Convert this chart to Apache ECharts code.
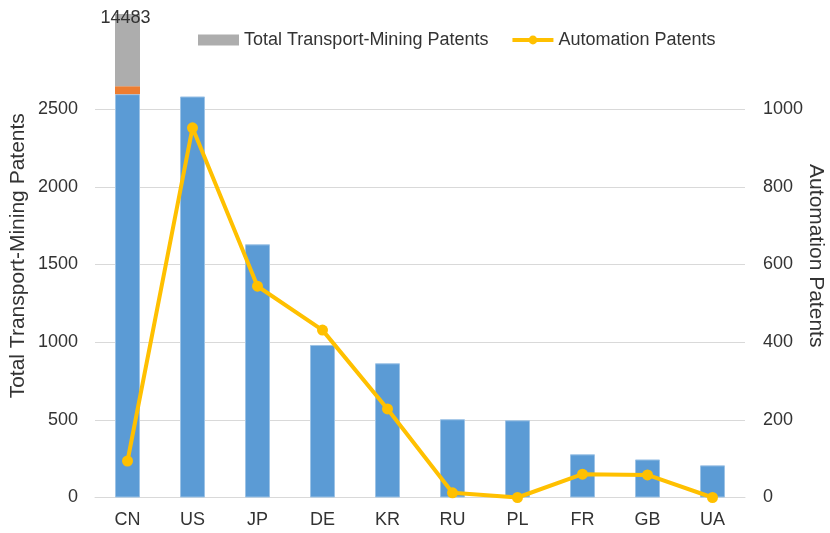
<!DOCTYPE html>
<html>
<head>
<meta charset="utf-8">
<script src="https://cdn.jsdelivr.net/npm/echarts@6/dist/echarts.min.js"></script>
<style>
  html, body { margin: 0; padding: 0; background: #fff; }
  #chart1 { width: 830px; height: 533px; }
</style>
</head>
<body>
<div id="chart1"></div>
<script>
// 国家分类
var categories = ['CN', 'US', 'JP', 'DE', 'KR', 'RU', 'PL', 'FR', 'GB', 'UA'];
// 运输-采矿专利总数（CN 柱子被截断显示）
var totalPatents = [2597, 2582, 1630, 982, 864, 504, 497, 278, 245, 207];
// CN 截断处的橙色断层和上面的灰色部分
var breakBand = [51, null, null, null, null, null, null, null, null, null];
var topBand = [465, null, null, null, null, null, null, null, null, null];
var cnTotalLabel = '14483';
// 自动化专利
var automation = [94, 952, 544, 431, 228, 12, 0, 60, 58, 0];

var chart1 = echarts.init(document.getElementById('chart1'));

var font = 'Liberation Sans, Arial, sans-serif';
var textColor = '#333';
var gridColor = '#d9d9d9';

var option = {
    animation: false,
    textStyle: { fontFamily: font },
    legend: {
        left: 193,
        top: 26,
        itemWidth: 41,
        itemHeight: 11,
        itemGap: 22,
        lineStyle: { width: 4 },
        textStyle: { fontSize: 18, color: textColor, fontFamily: font },
        data: [
            { name: 'Total Transport-Mining Patents', icon: 'rect' },
            'Automation Patents'
        ]
    },
    grid: {
        left: 95,
        right: 85,
        top: 14,
        bottom: 35.5,
        outerBoundsMode: 'none',
        containLabel: false
    },
    xAxis: {
        type: 'category',
        data: categories,
        axisTick: { show: false },
        axisLine: { lineStyle: { color: gridColor, width: 1 } },
        axisLabel: { fontSize: 18, color: textColor, margin: 14, fontFamily: font }
    },
    yAxis: [
        {
            type: 'value',
            min: 0,
            max: 3113,
            interval: 500,
            name: 'Total Transport-Mining Patents',
            nameLocation: 'middle',
            nameGap: 66,
            nameRotate: 90,
            nameMoveOverlap: false,
            nameTextStyle: { fontSize: 21, color: textColor, fontFamily: font },
            axisLine: { show: false },
            axisTick: { show: false },
            axisLabel: {
                fontSize: 18, color: textColor, margin: 17, fontFamily: font,
                formatter: function (v) { return v > 2500 ? '' : v; }
            },
            splitLine: {
                lineStyle: {
                    color: [gridColor, gridColor, gridColor, gridColor, gridColor, gridColor, 'transparent', 'transparent'],
                    width: 1
                }
            }
        },
        {
            type: 'value',
            min: 0,
            max: 1245,
            interval: 200,
            name: 'Automation Patents',
            nameLocation: 'middle',
            nameGap: 60,
            nameRotate: -90,
            nameMoveOverlap: false,
            nameTextStyle: { fontSize: 21, color: textColor, fontFamily: font },
            axisLine: { show: false },
            axisTick: { show: false },
            axisLabel: {
                fontSize: 18, color: textColor, margin: 18, fontFamily: font,
                formatter: function (v) { return v > 1000 ? '' : v; }
            },
            splitLine: { show: false }
        }
    ],
    series: [
        {
            name: 'Total',
            type: 'bar',
            stack: 'total',
            barWidth: 25,
            itemStyle: { color: '#5B9BD5', borderColor: '#9DC3E6', borderWidth: 1 },
            data: totalPatents
        },
        {
            name: 'Break',
            type: 'bar',
            stack: 'total',
            barWidth: 25,
            itemStyle: { color: '#ED7D31' },
            data: breakBand
        },
        {
            name: 'Total Transport-Mining Patents',
            type: 'bar',
            stack: 'total',
            barWidth: 25,
            itemStyle: { color: '#ADADAD' },
            label: {
                show: true,
                position: 'insideTop',
                distance: 0,
                offset: [-2, -5],
                fontSize: 18,
                color: textColor,
                fontFamily: font,
                formatter: function () { return cnTotalLabel; }
            },
            data: topBand
        },
        {
            name: 'Automation Patents',
            type: 'line',
            yAxisIndex: 1,
            symbol: 'circle',
            symbolSize: 11,
            z: 5,
            lineStyle: { color: '#FFC000', width: 4 },
            itemStyle: { color: '#FFC000' },
            data: automation
        }
    ]
};

chart1.setOption(option);
</script>
</body>
</html>
